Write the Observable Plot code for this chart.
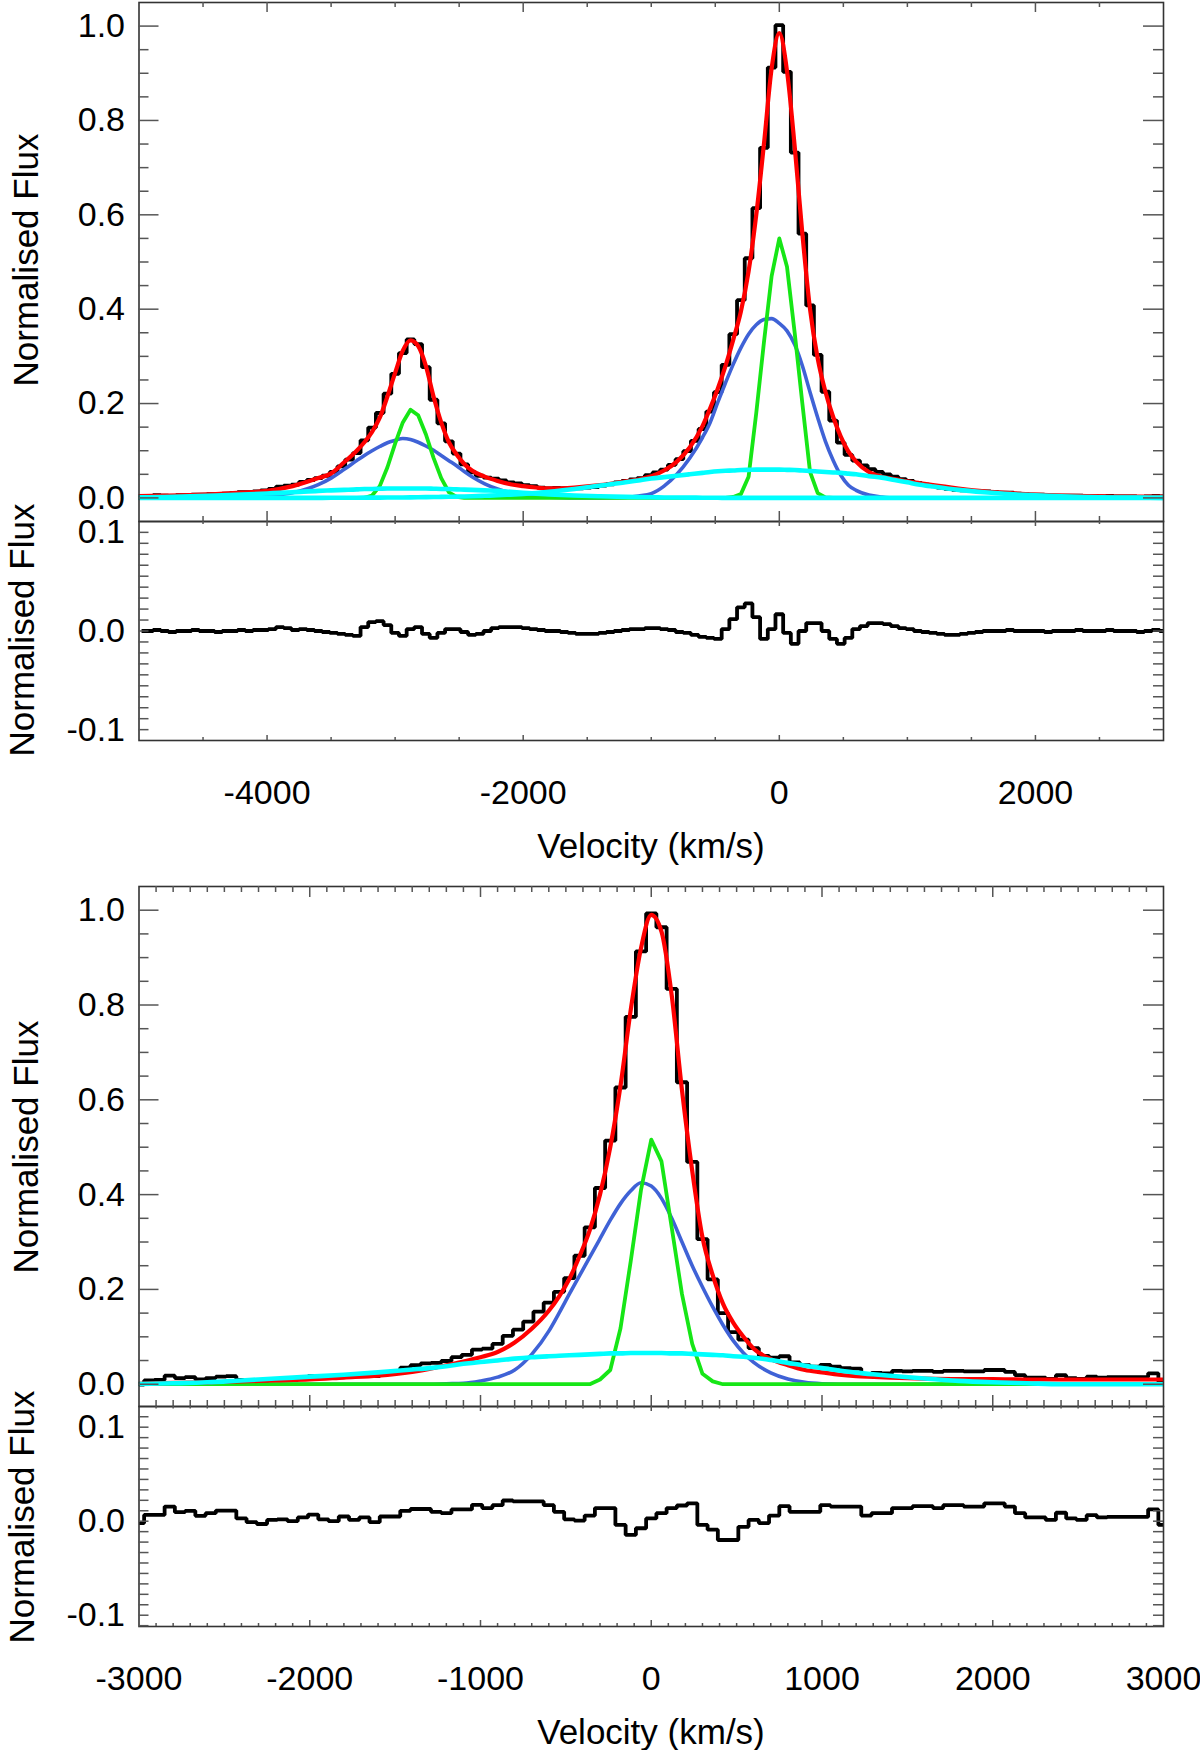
<!DOCTYPE html>
<html>
<head>
<meta charset="utf-8">
<script src="https://cdn.jsdelivr.net/npm/d3@7"></script>
<script src="https://cdn.jsdelivr.net/npm/@observablehq/plot@0.6"></script>
<style>
  body { margin: 0; background: #fff; }
  #chart { position: relative; width: 1200px; height: 1750px; overflow: hidden; background: #fff;
           font-family: "Liberation Sans", Arial, Helvetica, sans-serif; color: #000; }
  #chart svg { position: absolute; left: 0; }
  .lab { position: absolute; font-size: 35px; white-space: nowrap; }
  .ylab { writing-mode: vertical-rl; line-height: 0.8; transform: translate(-50%, -50%) rotate(180deg); }
  .xlab { line-height: 1; transform: translate(-50%, -50%); }
</style>
</head>
<body>
<div id="chart"></div>
<script>
// ---------- upper figure: observed spectrum (60 km/s bins) ----------
const topBinV = [
  -4980,-4920,-4860,-4800,-4740,-4680,-4620,-4560,-4500,-4440,
  -4380,-4320,-4260,-4200,-4140,-4080,-4020,-3960,-3900,-3840,
  -3780,-3720,-3660,-3600,-3540,-3480,-3420,-3360,-3300,-3240,
  -3180,-3120,-3060,-3000,-2940,-2880,-2820,-2760,-2700,-2640,
  -2580,-2520,-2460,-2400,-2340,-2280,-2220,-2160,-2100,-2040,
  -1980,-1920,-1860,-1800,-1740,-1680,-1620,-1560,-1500,-1440,
  -1380,-1320,-1260,-1200,-1140,-1080,-1020,-960,-900,-840,
  -780,-720,-660,-600,-540,-480,-420,-360,-300,-240,
  -180,-120,-60,0,60,120,180,240,300,360,
  420,480,540,600,660,720,780,840,900,960,
  1020,1080,1140,1200,1260,1320,1380,1440,1500,1560,
  1620,1680,1740,1800,1860,1920,1980,2040,2100,2160,
  2220,2280,2340,2400,2460,2520,2580,2640,2700,2760,
  2820,2880,2940,3000
];
const topFlux = [
  .004,.004,.006,.005,.004,.006,.006,.007,.007,.008,
  .007,.009,.010,.012,.012,.014,.016,.019,.024,.026,
  .028,.034,.038,.042,.047,.055,.067,.081,.095,.122,
  .149,.180,.221,.263,.307,.336,.326,.277,.208,.158,
  .120,.094,.071,.054,.047,.043,.041,.037,.033,.031,
  .027,.025,.022,.020,.021,.020,.020,.020,.022,.023,
  .026,.029,.033,.036,.039,.042,.048,.054,.060,.070,
  .082,.099,.121,.146,.183,.224,.282,.347,.419,.508,
  .614,.742,.912,1.002,.903,.732,.560,.408,.303,.225,
  .164,.117,.091,.079,.069,.061,.055,.050,.045,.040,
  .036,.032,.028,.025,.022,.019,.017,.016,.015,.014,
  .014,.012,.011,.011,.009,.008,.007,.007,.005,.005,
  .005,.005,.005,.004,.004,.003,.004,.003,.003,.003,
  .002,.003,.004,.003
];
const topResid = [
  0,0,.001,0,-.001,0,0,.001,0,0,
  -.001,0,0,.001,0,.001,.001,.002,.004,.003,
  .001,.002,.001,0,-.001,-.002,-.003,-.004,-.005,.004,
  .009,.010,.006,-.002,-.005,.002,.004,-.003,-.007,-.002,
  .002,.002,-.001,-.004,-.003,0,.003,.004,.004,.004,
  .003,.002,.001,0,0,-.001,-.002,-.003,-.003,-.003,
  -.002,-.001,0,.001,.002,.002,.003,.003,.002,.001,
  -.001,-.002,-.004,-.006,-.007,-.008,.002,.012,.024,.028,
  .014,-.008,.002,.017,-.002,-.013,0,.008,.008,0,
  -.008,-.013,-.007,.002,.005,.008,.008,.007,.005,.003,
  .002,0,-.001,-.002,-.003,-.004,-.004,-.003,-.002,-.001,
  0,0,0,.001,0,0,0,0,-.001,0,
  0,0,.001,0,0,0,.001,0,0,0,
  -.001,0,.001,0
];

// ---------- upper figure: fit components ----------
const topModelV = [
  -5000,-4800,-4600,-4400,-4200,-4000,-3800,-3600,
  -3500,-3400,-3300,
  -3240,-3180,-3120,-3060,-3000,-2940,-2880,-2820,-2760,-2700,-2640,-2580,-2520,-2460,
  -2400,-2300,-2200,-2100,-2000,-1900,-1800,
  -1600,-1400,-1200,
  -1100,-1000,-900,-800,-700,-600,
  -540,-480,-420,-360,-300,-240,-180,-120,-60,0,60,120,180,240,300,360,420,480,540,
  600,700,800,900,1000,1100,1200,
  1400,1600,1800,2000,2200,2400,2600,2800,3000
];
const topTotal = [
  .004,.005,.006,.008,.011,.015,.025,.042,
  .052,.075,.100,
  .118,.140,.170,.215,.265,.312,.334,.322,.280,.215,.160,.118,.092,.072,
  .058,.045,.036,.029,.025,.022,.020,
  .022,.027,.035,
  .039,.046,.058,.077,.107,.152,
  .190,.232,.280,.335,.395,.480,.600,.750,.910,.985,.905,.745,.560,.400,.295,.225,.172,.130,.098,
  .077,.055,.045,.040,.035,.031,.027,
  .020,.014,.010,.007,.005,.004,.003,.003,.003
];
const topBroad = [
  0,0,0,0,.001,.004,.011,.028,
  .042,.060,.079,
  .090,.100,.109,.117,.122,.126,.124,.118,.110,.101,.090,.079,.068,.056,
  .045,.030,.019,.011,.006,.003,.0015,
  0,0,.001,
  .004,.009,.025,.050,.084,.128,
  .160,.203,.244,.283,.318,.347,.367,.378,.380,.370,.354,.325,.280,.224,.170,.120,.080,.048,.027,
  .016,.006,.002,0,0,0,0,
  0,0,0,0,0,0,0,0,0
];
const topNarrow = [
  0,0,0,0,0,0,0,0,
  0,0,0,
  0,.005,.025,.065,.115,.160,.187,.175,.135,.085,.042,.012,.002,0,
  0,0,0,0,0,0,0,
  0,0,0,
  0,0,0,0,0,0,
  0,0,0,.002,.008,.045,.180,.330,.470,.550,.490,.350,.200,.055,.010,.001,0,0,0,
  0,0,0,0,0,0,0,
  0,0,0,0,0,0,0,0,0
];
const topWideA = [
  .0013,.002,.0034,.005,.007,.0095,.012,.015,
  .016,.017,.018,
  .019,.019,.0195,.020,.020,.020,.020,.020,.020,.0195,.019,.0188,.018,.0176,
  .017,.016,.015,.013,.011,.009,.0075,
  .005,.0035,.0022,
  .0017,.0013,.001,.0008,.0006,.0004,
  .0003,.0002,.0001,0,0,0,0,0,0,0,0,0,0,0,0,0,0,0,0,
  0,0,0,0,0,0,0,
  0,0,0,0,0,0,0,0,0
];
const topWideB = [
  0,0,0,0,0,0,0,.0001,
  .0002,.0003,.0004,
  .0005,.0006,.0007,.0008,.0009,.001,.0012,.0014,.0016,.0018,.0021,.0024,.0027,.003,
  .0035,.0045,.0055,.007,.0085,.0105,.013,
  .019,.026,.033,
  .037,.041,.044,.047,.050,.053,
  .055,.0565,.0575,.058,.059,.0595,.060,.060,.060,.060,.0595,.059,.058,.057,.056,.055,.054,.053,.0515,
  .050,.046,.043,.038,.033,.028,.024,
  .017,.012,.008,.0055,.0035,.002,.001,.0005,0
];

// ---------- lower figure: observed spectrum ----------
const botBinV = [
  -3000,-2940,-2880,-2820,-2760,-2700,-2640,-2580,-2520,-2460,
  -2400,-2340,-2280,-2220,-2160,-2100,-2040,-1980,-1920,-1860,
  -1800,-1740,-1680,-1620,-1560,-1500,-1440,-1380,-1320,-1260,
  -1200,-1140,-1080,-1020,-960,-900,-840,-780,-720,-660,
  -600,-540,-480,-420,-360,-300,-240,-180,-120,-60,
  0,60,120,180,240,300,360,420,480,540,
  600,660,720,780,840,900,960,1020,1080,1140,
  1200,1260,1320,1380,1440,1500,1560,1620,1680,1740,
  1800,1860,1920,1980,2040,2100,2160,2220,2280,2340,
  2400,2460,2520,2580,2640,2700,2760,2820,2880,2940,
  3000
];
const botFlux = [
  -.001,.008,.009,.018,.013,.015,.010,.013,.016,.017,
  .009,.006,.004,.009,.010,.009,.014,.017,.014,.013,
  .019,.017,.020,.017,.025,.027,.035,.040,.044,.045,
  .049,.057,.062,.073,.075,.085,.102,.115,.132,.153,
  .172,.195,.224,.271,.331,.414,.514,.626,.775,.913,
  .993,.964,.834,.637,.469,.306,.221,.150,.110,.094,
  .076,.060,.056,.059,.046,.040,.037,.041,.037,.034,
  .033,.022,.024,.023,.028,.027,.028,.028,.026,.028,
  .028,.027,.027,.030,.030,.026,.019,.014,.014,.011,
  .019,.013,.011,.016,.014,.015,.015,.015,.015,.023,
  .006
];
const botResid = [
  -.002,.0067,.0067,.0156,.0096,.011,.0057,.0085,.0113,.0113,
  .003,-.001,-.003,.0014,.002,0,.004,.007,.002,0,
  .005,.0014,.004,-.001,.005,.005,.011,.013,.013,.010,
  .0085,.0125,.0125,.0174,.014,.017,.022,.021,.021,.021,
  .017,.010,.002,.0007,.006,.014,.014,-.004,-.0146,-.0075,
  .003,.0085,.014,.0167,.019,-.004,-.009,-.020,-.020,-.006,
  .0014,-.002,.006,.016,.010,.010,.010,.017,.0156,.0156,
  .0156,.006,.0085,.0085,.014,.014,.016,.016,.014,.017,
  .017,.0156,.0156,.019,.019,.0156,.0085,.004,.004,.0014,
  .009,.003,.0014,.0064,.004,.0046,.0046,.0046,.0046,.0125,
  -.004
];

// ---------- lower figure: fit components ----------
const botModelV = [
  -3000,-2800,-2600,-2400,-2200,-2000,-1800,-1600,-1400,
  -1300,-1200,-1100,-1000,-900,-800,-700,-600,
  -540,-480,-420,-360,-300,-240,-180,-120,-60,0,60,120,180,240,300,360,420,480,540,
  600,700,800,900,1000,1100,1200,1300,1400,
  1600,1800,2000,2200,2400,2600,2800,3000
];
const botTotal = [
  .001,.003,.004,.006,.008,.010,.014,.018,.026,
  .032,.040,.048,.057,.068,.088,.117,.155,
  .185,.222,.270,.325,.400,.500,.630,.790,.920,.990,.955,.820,.620,.450,.310,.230,.170,.130,.100,
  .075,.053,.040,.030,.025,.020,.017,.0155,.014,
  .012,.011,.011,.010,.010,.010,.010,.010
];
const botBroad = [
  0,0,0,0,0,0,0,0,0,
  0,.001,.002,.007,.015,.030,.063,.112,
  .150,.190,.229,.268,.307,.346,.381,.408,.425,.418,.392,.350,.300,.250,.205,.163,.125,.092,.066,
  .046,.024,.011,.004,.001,0,0,0,0,
  0,0,0,0,0,0,0,0
];
const botNarrow = [
  0,0,0,0,0,0,0,0,0,
  0,0,0,0,0,0,0,0,
  0,0,0,0,.010,.030,.118,.260,.410,.516,.470,.330,.190,.085,.022,.006,0,0,0,
  0,0,0,0,0,0,0,0,0,
  0,0,0,0,0,0,0,0
];
const botWide = [
  .0005,.002,.004,.008,.012,.016,.020,.025,.031,
  .034,.038,.043,.047,.050,.054,.057,.059,
  .060,.061,.062,.063,.064,.065,.065,.066,.066,.066,.066,.065,.065,.064,.063,.062,.061,.059,.058,
  .056,.051,.045,.039,.034,.029,.0245,.021,.018,
  .012,.007,.004,.002,0,0,0,0
];

// ---------- axes ----------
const fluxLabels = [0, 0.2, 0.4, 0.6, 0.8, 1.0];
const residLabels = [-0.1, 0, 0.1];
const topXLabels = [-4000, -2000, 0, 2000];
const botXLabels = [-3000, -2000, -1000, 0, 1000, 2000, 3000];
const yTitle = "Normalised Flux";
const xTitle = "Velocity (km/s)";

const chart = document.getElementById("chart");
const W = 1200, ML = 138.5, MR = 37, IW = W - ML - MR;
const frameInk = "#333", tickInk = "#555";
const font = "'Liberation Sans', Arial, Helvetica, sans-serif";
const colors = {total: "#ff0000", broad: "#3f62d6", narrow: "#16e616", wide: "#00ffff"};

const pts = (xs, ys) => xs.map((v, i) => ({v, f: ys[i]}));

function spectrum(xs, ys) {
  return Plot.line(pts(xs, ys), {x: "v", y: "f", curve: "step", stroke: "black",
    strokeWidth: 3.8, strokeLinejoin: "miter", strokeLinecap: "butt", clip: true});
}
function model(xs, ys, color, width, curve = "monotone-x") {
  return Plot.line(pts(xs, ys), {x: "v", y: "f", curve, stroke: color, strokeWidth: width, clip: true});
}

function ticksY(major, minor, majLen, minLen) {
  const t = (vals, len, inset) => Plot.tickY(vals, {y: d => d, stroke: tickInk, strokeWidth: 1.5, [inset]: IW - len});
  return [t(major, majLen, "insetRight"), t(major, majLen, "insetLeft"),
          t(minor, minLen, "insetRight"), t(minor, minLen, "insetLeft")];
}
function ticksX(major, minor, ih, topLen, botLen) {
  const t = (vals, len, inset) => Plot.tickX(vals, {x: d => d, stroke: tickInk, strokeWidth: 1.5, [inset]: ih - len});
  return [t(major, topLen[0], "insetBottom"), t(minor, topLen[1], "insetBottom"),
          t(major, botLen[0], "insetTop"), t(minor, botLen[1], "insetTop")];
}
function yText(vals) {
  return Plot.text(vals, {y: d => d, text: d => d.toFixed(1), frameAnchor: "left", textAnchor: "end",
    lineAnchor: "middle", dx: -14, dy: 0, fontSize: 34, fill: "black"});
}
function xText(vals) {
  return Plot.text(vals, {x: d => d, text: d => String(d), frameAnchor: "bottom", lineAnchor: "middle",
    dy: 53, fontSize: 34, fill: "black"});
}

function panel(top, mTop, ih, mBottom, xDomain, yDomain, marks) {
  const svg = Plot.plot({
    width: W, height: mTop + ih + mBottom,
    marginLeft: ML, marginRight: MR, marginTop: mTop, marginBottom: mBottom,
    x: {domain: xDomain, axis: null},
    y: {domain: yDomain, axis: null},
    style: {fontFamily: font, background: "transparent", overflow: "visible"},
    marks
  });
  svg.style.top = top + "px";
  chart.append(svg);
}

function label(text, x, y, cls) {
  const d = document.createElement("div");
  d.className = "lab " + cls;
  d.style.left = x + "px";
  d.style.top = y + "px";
  d.textContent = text;
  chart.append(d);
}

const fluxMinor = d3.range(1, 21).filter(k => k % 4 !== 0).map(k => k * 0.05);
const topResMinor = d3.range(-9, 10).filter(k => k % 9 !== 0).map(k => k * 0.1 / 9);
const botResMinor = d3.range(-10, 11).filter(k => k % 9 !== 0).map(k => k * 0.1 / 9);
const topXMinor = d3.range(-4500, 3000, 500).filter(v => v % 2000 !== 0);
const botXMajor = [-2000, -1000, 0, 1000, 2000];
const botXMinor = d3.range(-2900, 3000, 100).filter(v => v % 1000 !== 0);

// upper figure, line panel
panel(0, 2, 519, 0, [-5000, 3000], [-0.05, 1.05], [
  spectrum(topBinV, topFlux),
  model(topModelV, topBroad, colors.broad, 3.6),
  model(topModelV, topNarrow, colors.narrow, 3.8, "linear"),
  model(topModelV, topTotal, colors.total, 4.2),
  model(topModelV, topWideA, colors.wide, 4.6),
  model(topModelV, topWideB, colors.wide, 4.6),
  Plot.frame({stroke: frameInk, strokeWidth: 1.6}),
  ...ticksY(fluxLabels, fluxMinor, 20, 10),
  ...ticksX(topXLabels, topXMinor, 519, [10, 5], [10, 5]),
  yText(fluxLabels)
]);
// upper figure, residual panel
panel(520, 1, 219, 110, [-5000, 3000], [-0.111, 0.111], [
  spectrum(topBinV, topResid),
  Plot.frame({stroke: frameInk, strokeWidth: 1.6}),
  ...ticksY(residLabels, topResMinor, 10, 10),
  ...ticksX(topXLabels, topXMinor, 219, [5, 3], [5, 3]),
  yText(residLabels),
  xText(topXLabels)
]);
// lower figure, line panel
panel(884, 2, 520, 0, [-3000, 3000], [-0.047, 1.05], [
  spectrum(botBinV, botFlux),
  model(botModelV, botBroad, colors.broad, 3.6),
  model(botModelV, botNarrow, colors.narrow, 3.8, "linear"),
  model(botModelV, botTotal, colors.total, 4.2),
  model(botModelV, botWide, colors.wide, 4.6),
  Plot.frame({stroke: frameInk, strokeWidth: 1.6}),
  ...ticksY(fluxLabels, fluxMinor, 20, 10),
  ...ticksX(botXMajor, botXMinor, 520, [11, 6], [11, 6]),
  yText(fluxLabels)
]);
// lower figure, residual panel
panel(1405, 1, 220, 100, [-3000, 3000], [-0.112, 0.122], [
  spectrum(botBinV, botResid),
  Plot.frame({stroke: frameInk, strokeWidth: 1.6}),
  ...ticksY(residLabels, botResMinor, 10, 10),
  ...ticksX(botXMajor, botXMinor, 220, [5, 2.5], [6, 3]),
  yText(residLabels),
  xText(botXLabels)
]);

label(yTitle, 26, 260, "ylab");
label(yTitle, 21.5, 630, "ylab");
label(xTitle, 651, 845, "xlab");
label(yTitle, 26, 1147, "ylab");
label(yTitle, 21.5, 1517, "ylab");
label(xTitle, 651, 1731, "xlab");
</script>
</body>
</html>
